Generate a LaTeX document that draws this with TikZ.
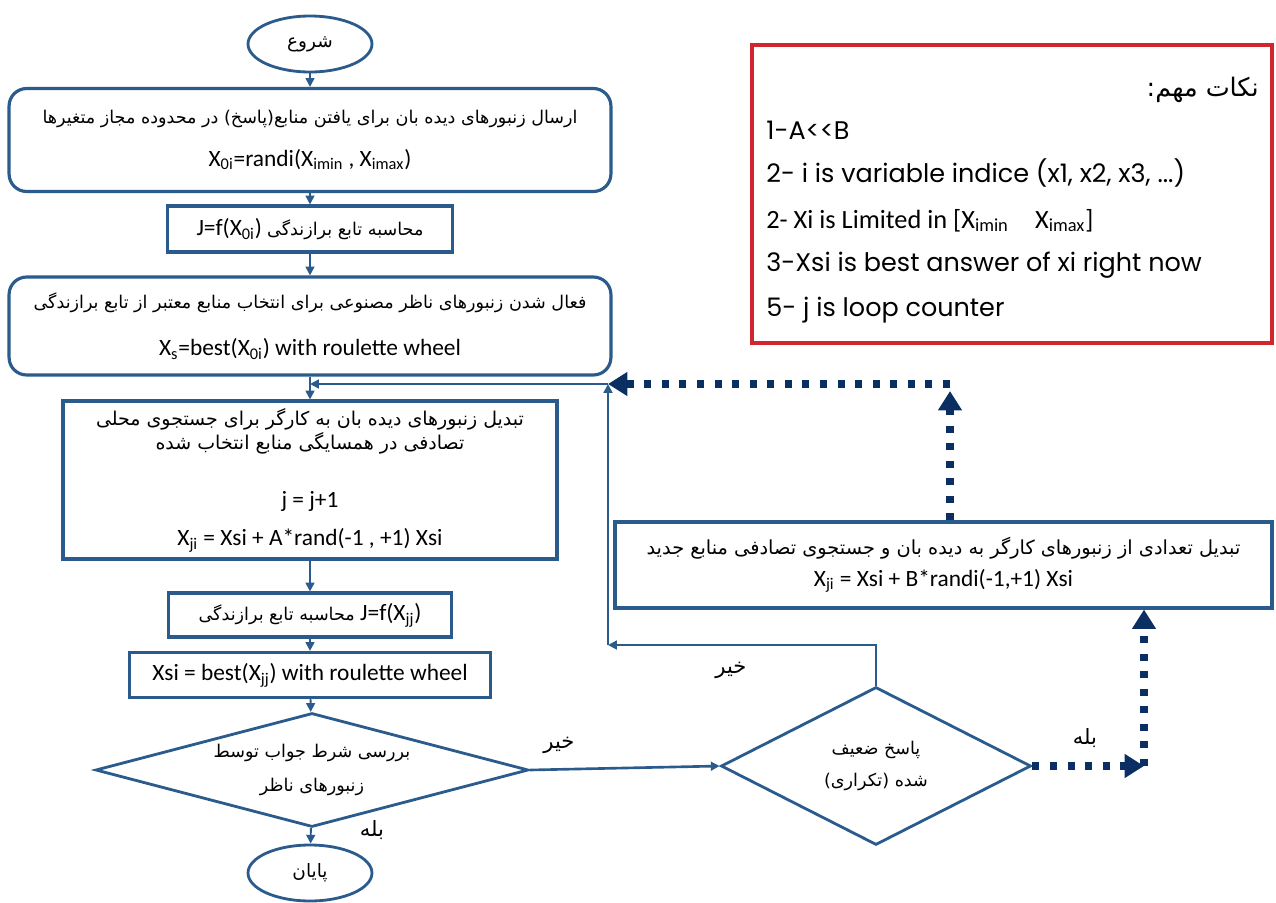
\documentclass[tikz,border=0pt]{standalone}
\usepackage{fontspec}
\setmainfont{Carlito}
\newfontfamily\arabicfont[Script=Arabic]{DejaVu Sans}
\newfontfamily\gothic{Poppins}
\TeXXeTstate=1
\usetikzlibrary{shapes.geometric,arrows.meta}
\definecolor{boxblue}{HTML}{2B5B8C}
\definecolor{navy}{HTML}{0B2F62}
\definecolor{notered}{HTML}{D0262D}
\newcommand\fa[2][10]{{\arabicfont\fontsize{#1}{#1}\selectfont\beginR #2\endR}}
\tikzset{
  flow/.style={draw=boxblue, line width=1.8pt, fill=white, align=center, inner sep=0pt,
    font=\fontsize{13.3}{16}\selectfont},
  roundbox/.style={flow, rectangle, rounded corners=10pt},
  sqbox/.style={flow, rectangle},
  terminal/.style={flow, ellipse, line width=1.6pt},
  decision/.style={flow, diamond, line width=1.6pt, aspect=3.8},
  conn/.style={draw=boxblue, line width=1.1pt, -{Triangle[length=5pt,width=5pt]}},
  dotconn/.style={draw=navy, line width=4pt, dash pattern=on 4pt off 6pt,
    -{Triangle[length=11pt,width=13pt]}},
  lbl/.style={inner sep=1pt},
  note/.style={anchor=base west, inner sep=0pt, font=\gothic\fontsize{14.5}{17}\selectfont}
}
\begin{document}
\begin{tikzpicture}[x=0.02cm, y=-0.02cm]
\useasboundingbox (0,0) rectangle (1276,903);

% main column
\node[terminal, minimum width=2.48cm, minimum height=1.12cm] (start) at (310,44) {\fa[10.5]{شروع}};
\node[roundbox, minimum width=12.04cm, minimum height=2.06cm] (b1) at (310,140)
  {\fa{ارسال زنبورهای دیده بان برای یافتن منابع(پاسخ) در محدوده مجاز متغیرها}\\[8.4pt]
   X\textsubscript{0i}=randi(X\textsubscript{imin} , X\textsubscript{imax})};
\node[sqbox, minimum width=5.7cm, minimum height=0.92cm] (b2) at (310,229)
  {J=f(X\textsubscript{0i})\ \fa{محاسبه تابع برازندگی}};
\node[roundbox, minimum width=12.04cm, minimum height=1.96cm] (b3) at (310,326)
  {\fa{فعال شدن زنبورهای ناظر مصنوعی برای انتخاب منابع معتبر از تابع برازندگی}\\[11pt]
   X\textsubscript{s}=best(X\textsubscript{0i}) with roulette wheel};
\node[sqbox, minimum width=9.88cm, minimum height=3.16cm] (b4) at (310,480)
  {\fa[10.8]{تبدیل زنبورهای دیده بان به کارگر برای جستجوی محلی}\\[-2pt]
   \fa[10.8]{تصادفی در همسایگی منابع انتخاب شده}\\[17pt]
   j = j+1\\[5.5pt]
   X\textsubscript{ji} = Xsi + A*rand(-1 , +1) Xsi};
\node[sqbox, minimum width=5.66cm, minimum height=0.88cm] (b5) at (310,615)
  {\fa{محاسبه تابع برازندگی}\ J=f(X\textsubscript{jj})};
\node[sqbox, minimum width=7.22cm, minimum height=0.9cm] (b6) at (310,675)
  {Xsi = best(X\textsubscript{jj}) with roulette wheel};
\node[decision, minimum width=8.66cm, minimum height=2.28cm] (d1) at (312,770)
  {\fa{بررسی شرط جواب توسط}\\[3.3pt]\fa{زنبورهای ناظر}};
\node[terminal, minimum width=2.48cm, minimum height=1.12cm] (end) at (310,873) {\fa[10.5]{پایان}};

% right side
\node[decision, minimum width=6.2cm, minimum height=3.16cm] (d2) at (876,766)
  {\fa{پاسخ ضعیف}\\[2.7pt]\fa{شده (تکراری)}};
\node[sqbox, minimum width=13.14cm, minimum height=1.72cm] (b7) at (943.5,565)
  {\fa[11]{تبدیل تعدادی از زنبورهای کارگر به دیده بان و جستجوی تصادفی منابع جدید}\\[2pt]
   X\textsubscript{ji} = Xsi + B*randi(-1,+1) Xsi};

% notes
\node[draw=notered, line width=1.8pt, minimum width=10.4cm, minimum height=5.96cm, inner sep=0pt] (notes) at (1012,194) {};
\node[anchor=base east, inner sep=0pt] (n0) at (1259,96) {\fa[14.5]{نکات مهم:}};
\node[note] (n1) at (766,139) {1-A<<B};
\node[note] (n2) at (766,182) {2- i is variable indice (x1, x2, x3, ...)};
\node[note, font=\fontsize{15}{18}\selectfont] (n3) at (766,228) {2- Xi is Limited in [X\textsubscript{imin}\quad X\textsubscript{imax}]};
\node[note] (n4) at (766,271) {3-Xsi is best answer of xi right now};
\node[note] (n5) at (766,316) {5- j is loop counter};

% joints
\coordinate (loopin) at (310,384);
\coordinate (j1) at (608,384);
\coordinate (j2) at (608,645);
\coordinate (j3) at (950,384);
\coordinate (j4) at (1144,766);

% connectors
\draw[conn] (start) -- (b1);
\draw[conn] (b1) -- (b2);
\draw[conn] (b2) -- (b3);
\draw[conn] (b3) -- (b4);
\draw[conn] (b4) -- (b5);
\draw[conn] (b5) -- (b6);
\draw[conn] (b6) -- (d1);
\draw[conn] (d1) -- (end);
\draw[conn, line width=1.5pt] (d1.east) -- (d2.west);
\draw[conn] (d2.north) |- (j2);
\draw[conn] (j2) -- (j1);
\draw[conn] (j1) -- (loopin);
\draw[dotconn] (d2.east) -- (j4);
\draw[dotconn] (j4) -- (j4 |- b7.south);
\draw[dotconn] (j3 |- b7.north) -- ([yshift=-4pt]j3);
\draw[dotconn] (j3) -- (j1);

% labels
\node[lbl] (no1) at (559,745) {\fa[12]{خیر}};
\node[lbl] (yes1) at (372,830) {\fa[12]{بله}};
\node[lbl] (no2) at (731,670) {\fa[12]{خیر}};
\node[lbl] (yes2) at (1085,738) {\fa[12]{بله}};
\end{tikzpicture}
\end{document}
